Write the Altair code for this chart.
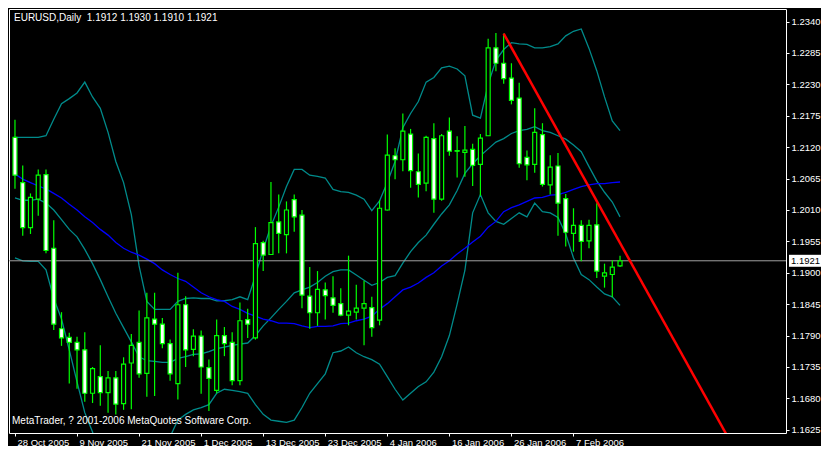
import altair as alt
import pandas as pd

# ---------------- data ----------------
date_labels = ["28 Oct 2005", "9 Nov 2005", "21 Nov 2005", "1 Dec 2005", "13 Dec 2005",
               "23 Dec 2005", "4 Jan 2006", "16 Jan 2006", "26 Jan 2006", "7 Feb 2006"]
date_ticks = [0, 8, 16, 24, 32, 40, 48, 56, 64, 72]

opens = [1.2137, 1.2058, 1.1979, 1.2029, 1.2072, 1.1943, 1.1802, 1.1787, 1.1778, 1.1765,
         1.1689, 1.1718, 1.1690, 1.1716, 1.1671, 1.1742, 1.1778, 1.1724, 1.1819, 1.1810,
         1.1776, 1.1706, 1.1844, 1.1766, 1.1789, 1.1734, 1.1694, 1.1790, 1.1778, 1.1711,
         1.1818, 1.1786, 1.1953, 1.1932, 1.1989, 1.1967, 1.2028, 1.2001, 1.1859, 1.1830,
         1.1870, 1.1856, 1.1846, 1.1826, 1.1831, 1.1838, 1.1839, 1.1817, 1.2010, 1.2105,
         1.2098, 1.2143, 1.2077, 1.2057, 1.2135, 1.2029, 1.2148, 1.2114, 1.2111, 1.2116,
         1.2090, 1.2140, 1.2294, 1.2267, 1.2241, 1.2206, 1.2102, 1.2090, 1.2142, 1.2054,
         1.2087, 1.2030, 1.1969, 1.1983, 1.1956, 1.1984, 1.1894, 1.1897, 1.1912]
highs = [1.2168, 1.2088, 1.2039, 1.2081, 1.2081, 1.1992, 1.1831, 1.1795, 1.1788, 1.1796,
         1.1735, 1.1773, 1.1728, 1.1728, 1.1752, 1.1793, 1.1834, 1.1865, 1.1865, 1.1821,
         1.1783, 1.1900, 1.1859, 1.1801, 1.1799, 1.1748, 1.1818, 1.1805, 1.1796, 1.1848,
         1.1837, 1.1980, 1.1956, 1.2059, 1.2037, 1.2025, 1.2037, 1.2010, 1.1910, 1.1903,
         1.1883, 1.1894, 1.1873, 1.1930, 1.1879, 1.1886, 1.1858, 1.2027, 1.2142, 1.2118,
         1.2179, 1.2152, 1.2109, 1.2140, 1.2162, 1.2143, 1.2172, 1.2139, 1.2157, 1.2126,
         1.2143, 1.2310, 1.2320, 1.2319, 1.2267, 1.2233, 1.2114, 1.2188, 1.2162, 1.2106,
         1.2110, 1.2038, 1.2013, 1.1992, 1.1993, 1.2022, 1.1916, 1.1922, 1.1930]
lows = [1.2047, 1.1965, 1.1968, 1.2000, 1.1934, 1.1800, 1.1772, 1.1706, 1.1697, 1.1674,
        1.1672, 1.1667, 1.1655, 1.1652, 1.1660, 1.1661, 1.1716, 1.1683, 1.1684, 1.1768,
        1.1711, 1.1678, 1.1735, 1.1754, 1.1688, 1.1658, 1.1689, 1.1754, 1.1703, 1.1703,
        1.1786, 1.1783, 1.1903, 1.1931, 1.1934, 1.1934, 1.1972, 1.1838, 1.1802, 1.1807,
        1.1818, 1.1830, 1.1824, 1.1808, 1.1818, 1.1773, 1.1788, 1.1808, 1.2009, 1.2064,
        1.2078, 1.2049, 1.2032, 1.2043, 1.2005, 1.2026, 1.2105, 1.2067, 1.2068, 1.2052,
        1.2035, 1.2140, 1.2253, 1.2231, 1.2195, 1.2084, 1.2062, 1.2075, 1.2051, 1.2037,
        1.1965, 1.1946, 1.1937, 1.1920, 1.1943, 1.1891, 1.1874, 1.1857, 1.1910]
closes = [1.2071, 1.1979, 1.2032, 1.2071, 1.1939, 1.1810, 1.1786, 1.1778, 1.1765, 1.1689,
          1.1732, 1.1690, 1.1716, 1.1670, 1.1740, 1.1773, 1.1723, 1.1821, 1.1810, 1.1776,
          1.1723, 1.1844, 1.1765, 1.1789, 1.1735, 1.1715, 1.1790, 1.1776, 1.1711, 1.1816,
          1.1810, 1.1951, 1.1931, 1.1988, 1.1969, 1.2010, 1.1998, 1.1861, 1.1830, 1.1871,
          1.1860, 1.1843, 1.1826, 1.1833, 1.1838, 1.1846, 1.1804, 1.2013, 1.2106, 1.2098,
          1.2148, 1.2079, 1.2055, 1.2137, 1.2029, 1.2140, 1.2113, 1.2113, 1.2115, 1.2088,
          1.2136, 1.2294, 1.2267, 1.2240, 1.2202, 1.2091, 1.2089, 1.2146, 1.2055, 1.2085,
          1.2022, 1.1971, 1.1983, 1.1955, 1.1983, 1.1903, 1.1900, 1.1910, 1.1921]

band_upper = [1.2137, 1.2137, 1.2137, 1.2137, 1.2140, 1.2169, 1.2196, 1.2205, 1.2215, 1.2234,
              1.2208, 1.2188, 1.2146, 1.2095, 1.2058, 1.2002, 1.1912, 1.1850, 1.1836, 1.1836,
              1.1836, 1.1850, 1.1855, 1.1856, 1.1855, 1.1855, 1.1851, 1.1851, 1.1853, 1.1858,
              1.1853, 1.1895, 1.1941, 1.1982, 1.2015, 1.2051, 1.2081, 1.2081, 1.2071, 1.2069,
              1.2066, 1.2046, 1.2042, 1.2041, 1.2036, 1.2029, 1.2009, 1.2026, 1.2058, 1.2095,
              1.2154, 1.2179, 1.2200, 1.2234, 1.2242, 1.2259, 1.2262, 1.2257, 1.2245, 1.2176,
              1.2171, 1.2230, 1.2272, 1.2291, 1.2303, 1.2301, 1.2300, 1.2294, 1.2294, 1.2296,
              1.2301, 1.2315, 1.2323, 1.2327, 1.2293, 1.2254, 1.2208, 1.2166, 1.2149]
band_middle = [1.2031, 1.2027, 1.2027, 1.2029, 1.2022, 1.2010, 1.1993, 1.1976, 1.1963, 1.1941,
               1.1916, 1.1888, 1.1858, 1.1829, 1.1804, 1.1779, 1.1753, 1.1746, 1.1745, 1.1743,
               1.1743, 1.1750, 1.1753, 1.1757, 1.1758, 1.1762, 1.1767, 1.1770, 1.1773, 1.1775,
               1.1777, 1.1790, 1.1807, 1.1821, 1.1836, 1.1850, 1.1865, 1.1870, 1.1875, 1.1883,
               1.1894, 1.1902, 1.1905, 1.1905, 1.1896, 1.1887, 1.1878, 1.1883, 1.1892, 1.1895,
               1.1917, 1.1937, 1.1953, 1.1966, 1.1985, 1.2003, 1.2019, 1.2044, 1.2074, 1.2091,
               1.2105, 1.2117, 1.2129, 1.2135, 1.2144, 1.2149, 1.2151, 1.2156, 1.2149, 1.2146,
               1.2140, 1.2134, 1.2124, 1.2112, 1.2086, 1.2061, 1.2041, 1.2024, 1.1998]
band_lower = [1.1926, 1.1921, 1.1920, 1.1920, 1.1905, 1.1855, 1.1819, 1.1765, 1.1709, 1.1655,
              1.1621, 1.1579, 1.1537, 1.1503, 1.1482, 1.1477, 1.1489, 1.1520, 1.1557, 1.1587,
              1.1613, 1.1642, 1.1652, 1.1660, 1.1664, 1.1669, 1.1689, 1.1696, 1.1694, 1.1692,
              1.1689, 1.1669, 1.1652, 1.1642, 1.1640, 1.1638, 1.1642, 1.1664, 1.1689, 1.1706,
              1.1723, 1.1760, 1.1763, 1.1770, 1.1760, 1.1753, 1.1748, 1.1740, 1.1718, 1.1696,
              1.1677, 1.1689, 1.1701, 1.1709, 1.1726, 1.1753, 1.1790, 1.1845, 1.1904, 1.2005,
              1.2037, 1.2005, 1.1990, 1.1985, 1.1995, 1.2005, 1.1998, 1.2022, 1.2007, 1.2005,
              1.1997, 1.1968, 1.1926, 1.1897, 1.1888, 1.1875, 1.1863, 1.1858, 1.1843]
moving_avg = [1.2073, 1.2064, 1.2058, 1.2052, 1.2047, 1.2039, 1.2031, 1.2020, 1.2010, 1.1998,
              1.1988, 1.1976, 1.1966, 1.1953, 1.1943, 1.1936, 1.1931, 1.1924, 1.1916, 1.1905,
              1.1897, 1.1890, 1.1885, 1.1875, 1.1865, 1.1858, 1.1853, 1.1850, 1.1841, 1.1836,
              1.1829, 1.1824, 1.1819, 1.1816, 1.1812, 1.1812, 1.1811, 1.1807, 1.1804, 1.1806,
              1.1806, 1.1807, 1.1811, 1.1812, 1.1816, 1.1819, 1.1824, 1.1836, 1.1846, 1.1858,
              1.1870, 1.1875, 1.1882, 1.1892, 1.1900, 1.1912, 1.1921, 1.1933, 1.1943, 1.1954,
              1.1964, 1.1980, 1.1990, 1.2007, 1.2014, 1.2019, 1.2025, 1.2031, 1.2032, 1.2036,
              1.2037, 1.2041, 1.2046, 1.2051, 1.2054, 1.2056, 1.2056, 1.2058, 1.2059]

price_ticks = [1.2340, 1.2285, 1.2230, 1.2175, 1.2120, 1.2065, 1.2010, 1.1955,
               1.1900, 1.1845, 1.1790, 1.1735, 1.1680, 1.1625]
trend_bars = [63, 94]
trend_prices = [1.2319, 1.1561]
last_price = 1.1921
header_text = "EURUSD,Daily \u00a01.1912 1.1930 1.1910 1.1921"
footer_text = "MetaTrader, ? 2001-2006 MetaQuotes Software Corp."

# ---------------- layout ----------------
W, H = 777, 424
FONT = "Liberation Sans"
TEAL = "#008b8b"
LIME = "#00ff00"

n = len(opens)
bars = list(range(n))
candles = pd.DataFrame({
    "bar": bars, "open": opens, "high": highs, "low": lows, "close": closes,
})
candles["body_lo"] = candles[["open", "close"]].min(axis=1)
candles["body_hi"] = candles[["open", "close"]].max(axis=1)
candles["fill"] = ["white" if c < o else "black" for o, c in zip(opens, closes)]

bands = pd.concat([
    pd.DataFrame({"bar": bars, "price": band_upper, "series": "upper"}),
    pd.DataFrame({"bar": bars, "price": band_middle, "series": "middle"}),
    pd.DataFrame({"bar": bars, "price": band_lower, "series": "lower"}),
    pd.DataFrame({"bar": bars, "price": moving_avg, "series": "ma"}),
])
trend = pd.DataFrame({"bar": trend_bars, "price": trend_prices})
last = pd.DataFrame({"price": [last_price], "lo": [last_price - 0.00105], "hi": [last_price + 0.00105],
                     "label": [f"{last_price:.4f}"]})

xscale = alt.Scale(domain=[-0.125, 98.75], nice=False, zero=False)
yscale = alt.Scale(domain=[1.16194, 1.2362], nice=False, zero=False)

label_expr = "[" + ",".join(f"'{d}'" for d in date_labels) + "][round(datum.value / 8)]"
x_axis = alt.Axis(values=date_ticks, labelExpr=label_expr, orient="bottom", labelAlign="left",
                  labelOffset=2, labelPadding=1, tickSize=3, tickColor="white", labelColor="white",
                  labelFont=FONT, labelFontSize=9.5, domain=False, grid=False, title=None,
                  labelOverlap=False, labelFlush=False, labelBound=False)
y_axis = alt.Axis(values=price_ticks, format=".4f", orient="right", tickSize=3, tickColor="white",
                  labelColor="white", labelFont=FONT, labelFontSize=9.5, labelPadding=2,
                  domain=False, grid=False, title=None, labelOverlap=False, labelBaseline="middle")


def X(field="bar"):
    return alt.X(f"{field}:Q", scale=xscale, axis=x_axis)


def Y(field):
    return alt.Y(f"{field}:Q", scale=yscale, axis=y_axis)


band_layer = alt.Chart(bands).mark_line(strokeWidth=1.3, clip=True, interpolate="linear").encode(
    x=X(),
    y=Y("price"),
    color=alt.Color("series:N", scale=alt.Scale(domain=["upper", "middle", "lower", "ma"],
                                                range=[TEAL, TEAL, TEAL, "#0000ff"]), legend=None),
    detail="series:N",
)

price_line = alt.Chart(last).mark_rule(color="#a0a0a0", strokeWidth=1).encode(
    y=Y("price")
)

wicks = alt.Chart(candles).mark_rule(color=LIME, strokeWidth=1.2).encode(
    x=X(),
    y=Y("low"),
    y2="high:Q",
)

bodies = alt.Chart(candles).mark_bar(size=4, stroke=LIME, strokeWidth=1.2).encode(
    x=X(),
    y=Y("body_lo"),
    y2="body_hi:Q",
    color=alt.Color("fill:N", scale=None),
)

trend_line = alt.Chart(trend).mark_line(color="#ff0000", strokeWidth=2.5, clip=True).encode(
    x=X(), y=Y("price")
)

last_box = alt.Chart(last).mark_rect(color="white", clip=False).encode(
    x=alt.value(W + 3), x2=alt.value(W + 35),
    y=Y("lo"), y2="hi:Q",
)
last_text = alt.Chart(last).mark_text(color="black", align="left", baseline="middle",
                                      font=FONT, fontSize=9.5, clip=False).encode(
    x=alt.value(W + 5), y=Y("price"), text="label:N"
)

header = alt.Chart(pd.DataFrame({"t": [header_text]})).mark_text(
    color="white", align="left", baseline="alphabetic", font=FONT, fontSize=10
).encode(x=alt.value(5), y=alt.value(12), text="t:N")

footer = alt.Chart(pd.DataFrame({"t": [footer_text]})).mark_text(
    color="white", align="left", baseline="alphabetic", font=FONT, fontSize=10
).encode(x=alt.value(3), y=alt.value(415), text="t:N")

chart = alt.layer(
    band_layer, price_line, wicks, bodies, trend_line, last_box, last_text, header, footer
).properties(
    width=W, height=H,
    background="black",
    autosize=alt.AutoSizeParams(type="none"),
    padding={"left": 1, "top": 1, "right": 35, "bottom": 13},
).configure_view(
    stroke="white", strokeWidth=1, fill="black"
)

chart.save("out.html", embed_options={"renderer": "svg", "actions": False})
